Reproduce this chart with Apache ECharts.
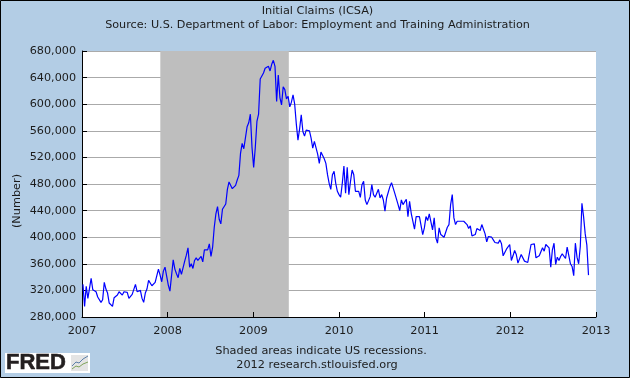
<!DOCTYPE html>
<html><head><meta charset="utf-8">
<style>html,body{margin:0;padding:0;background:#B3CDE5}#c{width:630px;height:378px}</style>
<script src="https://cdn.jsdelivr.net/npm/echarts@6/dist/echarts.min.js"></script>
</head><body><div id="c"></div>
<script>
const title = 'Initial Claims (ICSA)';
const subtitle = 'Source: U.S. Department of Labor: Employment and Training Administration';
const yName = '(Number)';
const note1 = 'Shaded areas indicate US recessions.';
const note2 = '2012 research.stlouisfed.org';
const yearTicks = [2007,2008,2009,2010,2011,2012,2013];
const recession = ['2007-12-01','2009-06-01'];
// weekly values, thousands of claims
const y2007 = [329,296,326,308,309,338,321,321,318,310,308,302,306,332,322,316,301,298,296,309,310,313,318,320,313,318,320,317,308,305,314,316,329,318,315,320,308,302,316,322,335,332,327,328,332,333,352,343,333,349,355,358];
const y2008 = [328,319,316,366,352,345,339,353,344,347,364,373,384,355,360,353,365,369,365,368,371,363,381,378,381,390,371,385,415,435,446,427,420,442,444,450,472,483,483,473,471,478,486,493,526,541,533,530,566,572,585,535,505];
const y2009 = [535,574,585,638,636,647,654,652,657,650,660,666,657,604,644,610,599,626,622,608,612,596,603,614,600,570,546,563,584,559,552,561,562,560,549,534,544,547,525,511,528,526,518,511,494,481,472,494,499,481,469,464];
const y2010 = [460,481,507,466,505,464,484,501,494,469,471,469,460,479,484,456,449,449,461,479,464,460,460,472,459,464,456,439,459,461,476,482,485,466,464,449,440,456,449,446,457,431,454,436,439,412,431,429,431,429,404,414];
const y2011 = [431,425,435,434,411,429,399,391,414,404,406,400,401,415,419,449,464,429,419,424,424,424,421,424,422,419,413,417,402,400,404,413,410,410,419,418,405,393,401,401,400,396,392,390,391,396,390,372,370,382,384,389];
const y2012 = [365,372,380,374,361,364,374,375,364,362,362,363,389,390,390,369,372,372,374,384,379,389,391,384,355,381,391,359,370,365,371,375,378,368,385,386,360,356,342,391,370,360,386,451,431,405,388,343];
const claims = [].concat(y2007,y2008,y2009,y2010,y2011,y2012);
const WEEK = 7*24*3600*1000, firstWeek = Date.UTC(2007,0,5);
const lineData = claims.map((v,i)=>[firstWeek+i*WEEK, v*1000]);
const yearMs = yearTicks.map(y=>Date.UTC(y,0,1));

const chart = echarts.init(document.getElementById('c'),null,{renderer:'canvas'});
const font = '"DejaVu Sans"', ink = '#1c1c1c';
chart.setOption({
  animation:false, backgroundColor:'#B3CDE5',
  grid:{show:true,backgroundColor:'#fff',borderWidth:0,left:82,right:34,top:51,bottom:61,containLabel:false},
  xAxis:{type:'value',min:yearMs[0],max:yearMs[6],z:3,
    axisLine:{lineStyle:{color:'#000',width:1}},
    axisTick:{inside:true,length:5,lineStyle:{color:'#000'},customValues:yearMs},
    axisLabel:{customValues:yearMs,formatter:v=>String(new Date(v).getUTCFullYear()),color:ink,fontFamily:font,fontSize:11.3,margin:9,hideOverlap:false},
    splitLine:{show:false}},
  yAxis:{type:'value',min:280000,max:680000,interval:40000,
    axisLine:{show:true,lineStyle:{color:'#000'}},
    axisTick:{show:true,inside:true,length:5,lineStyle:{color:'#000'}},
    axisLabel:{color:ink,fontFamily:font,fontSize:11.2,margin:6,formatter:v=>v.toLocaleString('en-US')},
    splitLine:{show:true,lineStyle:{color:'#AAAAAA',width:1}}},
  series:[{type:'line',data:lineData,showSymbol:false,symbol:'none',smooth:false,
    lineStyle:{color:'#0000FF',width:1.2},
    markArea:{silent:true,itemStyle:{color:'#BEBEBE',opacity:1},
      data:[[{xAxis:Date.parse(recession[0])},{xAxis:Date.parse(recession[1])}]]}}],
  graphic:[
    {type:'rect',z:100,shape:{x:.5,y:.5,width:629,height:377},style:{fill:'none',stroke:'#000',lineWidth:1},silent:true},
    {type:'text',z:100,style:{text:title,x:317.5,y:11,align:'center',verticalAlign:'middle',fill:ink,font:'11.3px '+font}},
    {type:'text',z:100,style:{text:subtitle,x:317.5,y:25,align:'center',verticalAlign:'middle',fill:ink,font:'11.2px '+font}},
    {type:'text',z:100,rotation:Math.PI/2,x:17,y:201,style:{text:yName,x:0,y:0,align:'center',verticalAlign:'middle',fill:ink,font:'11.3px '+font}},
    {type:'text',z:100,style:{text:note1,x:321,y:351,align:'center',verticalAlign:'middle',fill:ink,font:'11.3px '+font}},
    {type:'text',z:100,style:{text:note2,x:317,y:365,align:'center',verticalAlign:'middle',fill:ink,font:'11.3px '+font}},
    {type:'rect',z:100,shape:{x:5,y:353,width:85,height:20},style:{fill:'#fff'}},
    {type:'text',z:101,style:{text:'FRED',x:6,y:363,align:'left',verticalAlign:'middle',fill:'#231F20',stroke:'#231F20',lineWidth:.6,font:'bold 22px "Liberation Sans"'}},
    {type:'rect',z:101,shape:{x:71,y:355,width:17,height:16},style:{fill:'#E4E4E4'}},
    {type:'polyline',z:102,shape:{points:[[72,369],[76,366],[79,367],[83,364],[88,362]]},style:{stroke:'#7FA35A',fill:'none',lineWidth:1}},
    {type:'polyline',z:102,shape:{points:[[72,366],[76,362],[79,363],[83,359],[88,356]]},style:{stroke:'#5C7FA8',fill:'none',lineWidth:1}}
  ]
});
</script></body></html>
